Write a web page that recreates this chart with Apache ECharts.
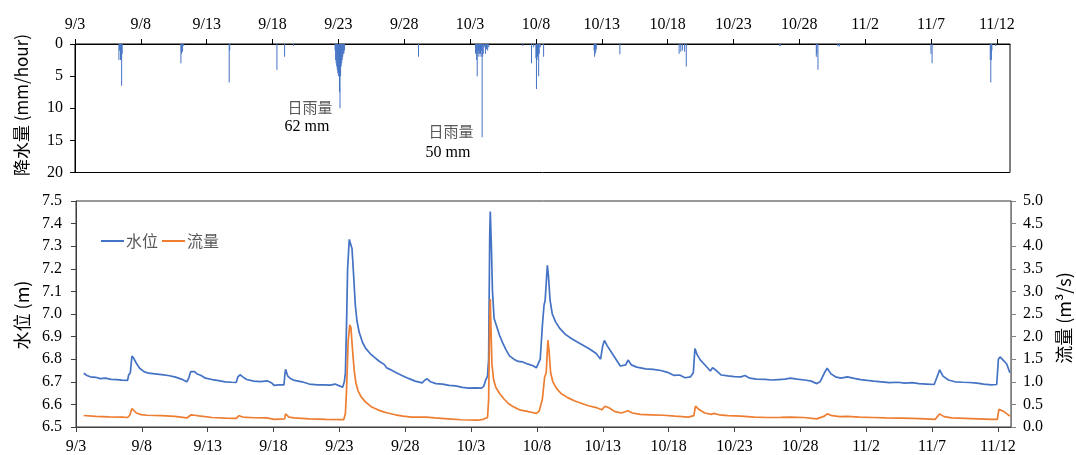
<!DOCTYPE html>
<html><head><meta charset="utf-8">
<script src="https://cdn.jsdelivr.net/npm/echarts@6/dist/echarts.min.js"></script>
<style>html,body{margin:0;padding:0;background:#fff}#c{width:1076px;height:455px}</style>
</head><body><div id="c"></div>
<script>
// ---- data (times as "M/D H") ----
const dateTicks = ['9/3','9/8','9/13','9/18','9/23','9/28','10/3','10/8','10/13','10/18','10/23','10/28','11/2','11/7','11/12'];
const rainTicks = [0,5,10,15,20];
const levelTicks = [6.5,6.6,6.7,6.8,6.9,7.0,7.1,7.2,7.3,7.4,7.5];
const flowTicks = [0,0.5,1,1.5,2,2.5,3,3.5,4,4.5,5];

const rainfall = [
 ['9/6 8',2.5],['9/6 9',1.0],['9/6 11',2.5],['9/6 12',2.3],['9/6 13',6.5],['9/6 14',1.5],
 ['9/11 1',3.0],['9/11 2',1.5],['9/11 4',1.2],['9/11 6',0.3],
 ['9/14 17',6.0],['9/14 18',1.0],
 ['9/18 8',4.0],['9/18 22',2.0],['9/19 14',0.3],
 ['9/22 18',1.0],['9/22 19',2.5],['9/22 20',3.0],['9/22 21',3.5],['9/22 22',4.0],['9/22 23',4.5],
 ['9/23 0',5.0],['9/23 1',4.5],['9/23 2',7.5],['9/23 3',10.0],['9/23 4',5.0],['9/23 5',3.5],['9/23 6',3.0],
 ['9/23 7',2.5],['9/23 8',2.0],['9/23 9',1.5],['9/23 10',1.5],['9/23 11',1.0],
 ['9/29 2',2.0],
 ['10/3 10',1.5],['10/3 11',1.0],['10/3 12',2.5],['10/3 13',5.0],['10/3 14',1.5],['10/3 15',1.0],['10/3 16',2.0],
 ['10/3 17',1.5],['10/3 18',1.0],['10/3 19',1.5],['10/3 20',2.0],['10/3 21',1.0],['10/3 22',14.5],['10/3 23',2.0],
 ['10/4 0',1.5],['10/4 2',0.5],['10/4 4',1.5],['10/4 6',0.8],['10/4 8',1.0],['10/4 10',0.5],
 ['10/7 0',0.3],['10/7 16',3.0],['10/7 20',0.5],['10/8 0',2.2],['10/8 1',7.0],['10/8 2',2.5],['10/8 3',2.0],
 ['10/8 4',1.5],['10/8 5',5.0],['10/8 6',1.5],['10/8 8',0.5],['10/8 14',2.0],
 ['10/12 10',1.0],['10/12 11',2.0],['10/12 12',1.5],['10/12 13',1.2],['10/12 14',0.8],
 ['10/14 9',1.6],
 ['10/18 21',1.5],['10/19 0',1.2],['10/19 3',1.0],['10/19 7',1.2],['10/19 10',3.5],
 ['10/26 12',0.3],['10/26 13',0.3],
 ['10/29 7',2.0],['10/29 8',1.5],['10/29 10',4.0],
 ['10/30 22',0.3],['10/31 1',0.4],
 ['11/7 0',1.5],['11/7 2',3.0],
 ['11/11 12',2.5],['11/11 13',6.0],['11/11 14',2.5],['11/11 15',1.0],['11/11 22',0.3]
];

const waterLevel = [
 ['9/3 14',6.738],['9/3 20',6.728],['9/4 2',6.722],['9/4 12',6.720],['9/4 20',6.714],['9/5 6',6.716],['9/5 16',6.711],
 ['9/6 2',6.710],['9/6 12',6.707],['9/6 22',6.706],['9/7 0',6.73],['9/7 3',6.74],['9/7 6',6.814],['9/7 9',6.805],
 ['9/7 14',6.782],['9/7 20',6.760],['9/8 4',6.745],['9/8 12',6.738],['9/9 0',6.735],['9/9 12',6.732],['9/10 0',6.728],
 ['9/10 12',6.722],['9/11 0',6.712],['9/11 10',6.70],['9/11 14',6.72],['9/11 17',6.745],['9/11 20',6.738],['9/12 0',6.745],
 ['9/12 4',6.736],['9/12 12',6.728],['9/12 20',6.716],['9/13 8',6.710],['9/13 20',6.705],['9/14 8',6.700],['9/14 20',6.698],
 ['9/15 4',6.697],['9/15 7',6.722],['9/15 11',6.731],['9/15 16',6.722],['9/15 23',6.710],['9/16 12',6.703],['9/17 0',6.701],
 ['9/17 13',6.704],['9/17 20',6.696],['9/18 1',6.684],['9/18 10',6.686],['9/18 19',6.686],['9/18 21',6.74],['9/18 22',6.755],
 ['9/19 2',6.725],['9/19 6',6.716],['9/19 14',6.706],['9/20 4',6.700],['9/20 17',6.690],['9/21 8',6.686],['9/21 20',6.686],
 ['9/22 8',6.685],['9/22 16',6.690],['9/23 0',6.682],['9/23 6',6.676],['9/23 9',6.70],['9/23 11',6.74],['9/23 13',6.95],
 ['9/23 15',7.20],['9/23 18',7.33],['9/23 20',7.336],['9/23 23',7.29],['9/24 2',7.17],['9/24 5',7.04],['9/24 8',6.97],
 ['9/24 12',6.92],['9/24 18',6.875],['9/25 0',6.848],['9/25 8',6.825],['9/25 16',6.808],['9/26 0',6.792],['9/26 10',6.776],
 ['9/26 14',6.762],['9/26 16',6.768],['9/26 20',6.755],['9/27 6',6.742],['9/27 18',6.728],['9/28 6',6.715],['9/28 18',6.703],
 ['9/29 7',6.695],['9/29 12',6.708],['9/29 16',6.713],['9/29 22',6.700],['9/30 8',6.692],['9/30 20',6.690],['10/1 8',6.684],
 ['10/1 20',6.682],['10/2 8',6.675],['10/2 20',6.672],['10/3 8',6.673],['10/3 19',6.672],['10/3 23',6.68],['10/4 3',6.71],
 ['10/4 6',6.725],['10/4 8',6.80],['10/4 10',7.35],['10/4 11',7.453],['10/4 13',7.30],['10/4 15',7.10],['10/4 18',6.98],
 ['10/4 22',6.95],['10/5 4',6.905],['10/5 10',6.87],['10/5 16',6.84],['10/5 22',6.815],['10/6 6',6.80],['10/6 14',6.790],
 ['10/6 22',6.788],['10/7 8',6.778],['10/7 16',6.772],['10/7 23',6.762],
 ['10/8 2',6.767],['10/8 6',6.80],['10/8 10',6.95],['10/8 13',7.04],['10/8 15',7.06],['10/8 19',7.215],['10/8 21',7.17],
 ['10/9 0',7.06],['10/9 4',7.00],['10/9 10',6.965],['10/9 18',6.935],['10/10 4',6.91],['10/10 14',6.893],['10/11 0',6.878],
 ['10/11 12',6.862],['10/12 0',6.845],['10/12 12',6.825],['10/12 20',6.80],['10/13 0',6.86],['10/13 3',6.883],['10/13 8',6.86],
 ['10/13 16',6.83],['10/14 0',6.80],['10/14 8',6.77],['10/14 18',6.775],['10/14 22',6.796],['10/15 4',6.775],['10/15 14',6.765],
 ['10/16 6',6.757],['10/16 20',6.755],['10/17 10',6.750],['10/17 22',6.742],['10/18 10',6.728],['10/18 20',6.730],
 ['10/19 6',6.718],['10/19 16',6.722],['10/19 21',6.74],['10/20 0',6.847],['10/20 4',6.82],['10/20 10',6.796],['10/20 20',6.77],
 ['10/21 4',6.748],['10/21 8',6.762],['10/21 14',6.752],['10/22 0',6.73],['10/22 12',6.726],['10/23 0',6.723],['10/23 12',6.722],
 ['10/23 19',6.728],['10/24 4',6.716],['10/24 16',6.712],['10/25 8',6.711],['10/25 20',6.708],['10/26 8',6.710],['10/26 20',6.712],
 ['10/27 6',6.716],['10/27 18',6.712],['10/28 8',6.708],['10/28 20',6.703],['10/29 6',6.692],['10/29 12',6.70],['10/29 20',6.74],
 ['10/30 1',6.760],['10/30 8',6.735],['10/30 16',6.722],['10/31 2',6.716],['10/31 14',6.722],['11/1 2',6.715],['11/1 14',6.710],
 ['11/2 2',6.706],['11/2 14',6.703],['11/3 4',6.700],['11/3 18',6.696],['11/4 10',6.698],['11/4 22',6.694],['11/5 12',6.696],
 ['11/6 0',6.692],['11/6 14',6.690],['11/7 4',6.688],['11/7 9',6.72],['11/7 14',6.753],['11/7 20',6.725],['11/8 6',6.708],
 ['11/8 18',6.700],['11/9 8',6.698],['11/9 20',6.697],['11/10 10',6.694],['11/10 22',6.690],['11/11 12',6.686],['11/11 22',6.688],
 ['11/12 1',6.80],['11/12 4',6.81],['11/12 10',6.795],['11/12 16',6.78],['11/12 22',6.74]
];

const flow = [
 ['9/3 14',0.255],['9/4 12',0.235],['9/5 12',0.225],['9/6 12',0.22],['9/6 22',0.21],['9/7 2',0.26],['9/7 6',0.41],
 ['9/7 9',0.37],['9/7 14',0.31],['9/7 22',0.275],['9/8 10',0.26],['9/9 12',0.25],['9/10 12',0.235],['9/11 10',0.20],
 ['9/11 18',0.27],['9/12 0',0.26],['9/12 8',0.245],['9/13 8',0.21],['9/14 8',0.195],['9/15 4',0.19],['9/15 9',0.25],
 ['9/15 16',0.22],['9/16 12',0.205],['9/17 12',0.20],['9/18 1',0.17],['9/18 20',0.18],['9/18 22',0.29],['9/19 4',0.22],
 ['9/19 14',0.20],['9/20 17',0.18],['9/22 0',0.17],['9/23 8',0.165],['9/23 11',0.30],['9/23 13',0.80],['9/23 16',1.90],
 ['9/23 19',2.26],['9/23 21',2.20],['9/24 0',1.70],['9/24 3',1.25],['9/24 6',0.98],['9/24 10',0.80],['9/24 16',0.66],
 ['9/25 0',0.55],['9/25 10',0.45],['9/25 22',0.38],['9/26 10',0.33],['9/26 16',0.31],['9/27 6',0.27],['9/27 20',0.24],
 ['9/28 12',0.22],['9/29 14',0.22],['9/30 6',0.20],['10/1 6',0.18],['10/2 6',0.16],['10/3 12',0.15],['10/3 22',0.17],
 ['10/4 6',0.21],['10/4 8',0.60],['10/4 10',2.4],['10/4 11',2.83],['10/4 12',2.3],['10/4 14',1.40],['10/4 17',1.05],
 ['10/4 21',0.88],['10/5 4',0.74],['10/5 12',0.62],['10/5 20',0.52],['10/6 6',0.44],['10/6 16',0.38],['10/7 4',0.35],
 ['10/7 16',0.32],['10/7 23',0.30],['10/8 4',0.35],['10/8 10',0.62],['10/8 14',1.10],['10/8 17',1.20],['10/8 20',1.92],
 ['10/8 22',1.70],['10/9 1',1.20],['10/9 5',1.00],['10/9 12',0.85],['10/9 20',0.74],['10/10 8',0.65],['10/10 20',0.58],
 ['10/11 10',0.52],['10/11 22',0.47],['10/12 12',0.43],['10/12 22',0.38],['10/13 4',0.46],['10/13 12',0.42],['10/13 22',0.34],
 ['10/14 10',0.31],['10/14 22',0.36],['10/15 6',0.31],['10/15 20',0.28],['10/16 16',0.27],['10/17 14',0.26],['10/18 12',0.24],
 ['10/19 12',0.22],['10/19 22',0.25],['10/20 1',0.46],['10/20 8',0.38],['10/20 18',0.31],['10/21 6',0.28],['10/21 10',0.30],
 ['10/21 20',0.27],['10/22 12',0.25],['10/23 12',0.24],['10/24 12',0.22],['10/25 12',0.21],['10/26 12',0.215],['10/27 6',0.22],
 ['10/28 6',0.21],['10/29 6',0.18],['10/29 20',0.24],['10/30 1',0.29],['10/30 10',0.25],['10/31 0',0.23],['10/31 14',0.235],
 ['11/1 12',0.22],['11/2 12',0.21],['11/3 12',0.20],['11/4 12',0.195],['11/5 12',0.19],['11/6 12',0.18],['11/7 6',0.17],
 ['11/7 14',0.29],['11/7 22',0.23],['11/8 12',0.20],['11/9 12',0.19],['11/10 12',0.18],['11/11 12',0.17],['11/11 23',0.17],
 ['11/12 2',0.39],['11/12 10',0.35],['11/12 22',0.24]
];

// ---- helpers ----
function dayOf(s){ const [md,h]=s.split(' '); const [m,d]=md.split('/').map(Number);
  const base = m===9 ? d-3 : (m===10 ? d+27 : d+58); return base + Number(h||0)/24; }
const toXY = arr => arr.map(([s,v]) => [dayOf(s), v]);
const tickDays = dateTicks.map(dayOf);
const X_MAX = dayOf('11/13 0');
const serif = 'Liberation Serif';
const sans = '"Noto Sans CJK SC","Noto Sans",sans-serif';
const dateLabel = v => { const i = tickDays.indexOf(v); return i>=0 ? dateTicks[i] : ''; };

const chart = echarts.init(document.getElementById('c'), null, {renderer:'canvas'});
chart.setOption({
  animation:false,
  grid:[
    {left:75, right:66, top:44, height:128.5, show:true, borderColor:'#000', borderWidth:1},
    {left:76, right:65, top:201, bottom:25, show:true, borderColor:'#333', borderWidth:1}
  ],
  legend:{data:['水位','流量'], left:96, top:228, icon:'rect', itemWidth:23, itemHeight:2, itemGap:4,
    textStyle:{fontFamily:sans, fontSize:16, color:'#595959', padding:[0,0,0,-3]}},
  xAxis:[
    {type:'value', gridIndex:0, position:'top', min:0, max:X_MAX,
     axisLine:{lineStyle:{color:'#000', width:1}}, splitLine:{show:false},
     axisTick:{length:5, lineStyle:{color:'#000'}, customValues:tickDays},
     axisLabel:{customValues:tickDays, formatter:dateLabel, fontFamily:serif, fontSize:16, color:'#000', margin:11}},
    {type:'value', gridIndex:1, position:'bottom', min:0, max:X_MAX,
     axisLine:{lineStyle:{color:'#404040', width:1}}, splitLine:{show:false},
     axisTick:{length:5, lineStyle:{color:'#404040'}, customValues:tickDays},
     axisLabel:{customValues:tickDays, formatter:dateLabel, fontFamily:serif, fontSize:16, color:'#000', margin:12}}
  ],
  yAxis:[
    {type:'value', gridIndex:0, inverse:true, min:0, max:20, interval:5,
     axisLine:{show:true, lineStyle:{color:'#000'}}, splitLine:{show:false},
     axisTick:{show:true, length:5, lineStyle:{color:'#000'}, customValues:rainTicks},
     axisLabel:{customValues:rainTicks, fontFamily:serif, fontSize:16, color:'#000', margin:12}},
    {type:'value', gridIndex:1, position:'left', min:6.5, max:7.5, interval:0.1,
     axisLine:{show:true, lineStyle:{color:'#404040'}}, splitLine:{show:false},
     axisTick:{show:true, length:5, lineStyle:{color:'#404040'}, customValues:levelTicks},
     axisLabel:{customValues:levelTicks, formatter:v=>v.toFixed(1), fontFamily:serif, fontSize:16, color:'#000', margin:14}},
    {type:'value', gridIndex:1, position:'right', min:0, max:5, interval:0.5,
     axisLine:{show:true, lineStyle:{color:'#808080'}}, splitLine:{show:false},
     axisTick:{show:true, length:5, lineStyle:{color:'#808080'}, customValues:flowTicks},
     axisLabel:{customValues:flowTicks, formatter:v=>v.toFixed(1), fontFamily:serif, fontSize:16, color:'#000', margin:12}}
  ],
  series:[
    {name:'降水量', type:'bar', xAxisIndex:0, yAxisIndex:0, data:toXY(rainfall), barWidth:1,
     itemStyle:{color:'#4472C4'}},
    {name:'水位', type:'line', xAxisIndex:1, yAxisIndex:1, data:toXY(waterLevel), showSymbol:false, symbol:'none',
     lineStyle:{color:'#4472C4', width:1.7}, itemStyle:{color:'#4472C4'}},
    {name:'流量', type:'line', xAxisIndex:1, yAxisIndex:2, data:toXY(flow), showSymbol:false, symbol:'none',
     lineStyle:{color:'#ED7D31', width:1.7}, itemStyle:{color:'#ED7D31'}}
  ],
  graphic:[
    {type:'text', x:22, y:105, rotation:Math.PI/2,
     style:{text:'降水量 (mm/hour)', fill:'#000', font:'17px '+sans, align:'center', verticalAlign:'middle'}},
    {type:'text', x:22, y:315, rotation:Math.PI/2,
     style:{text:'水位 (m)', fill:'#000', font:'18px '+sans, align:'center', verticalAlign:'middle'}},
    {type:'text', x:1064, y:318, rotation:Math.PI/2,
     style:{text:'流量 (m³/s)', fill:'#000', font:'18px '+sans, align:'center', verticalAlign:'middle'}},
    {type:'text', x:310, y:107, style:{text:'日雨量', fill:'#595959', font:'15px '+sans, align:'center', verticalAlign:'middle'}},
    {type:'text', x:307, y:127, style:{text:'62 mm', fill:'#000', font:'16px '+serif, align:'center', verticalAlign:'middle'}},
    {type:'text', x:451, y:131, style:{text:'日雨量', fill:'#595959', font:'15px '+sans, align:'center', verticalAlign:'middle'}},
    {type:'text', x:448, y:153, style:{text:'50 mm', fill:'#000', font:'16px '+serif, align:'center', verticalAlign:'middle'}}
  ]
});
</script></body></html>
